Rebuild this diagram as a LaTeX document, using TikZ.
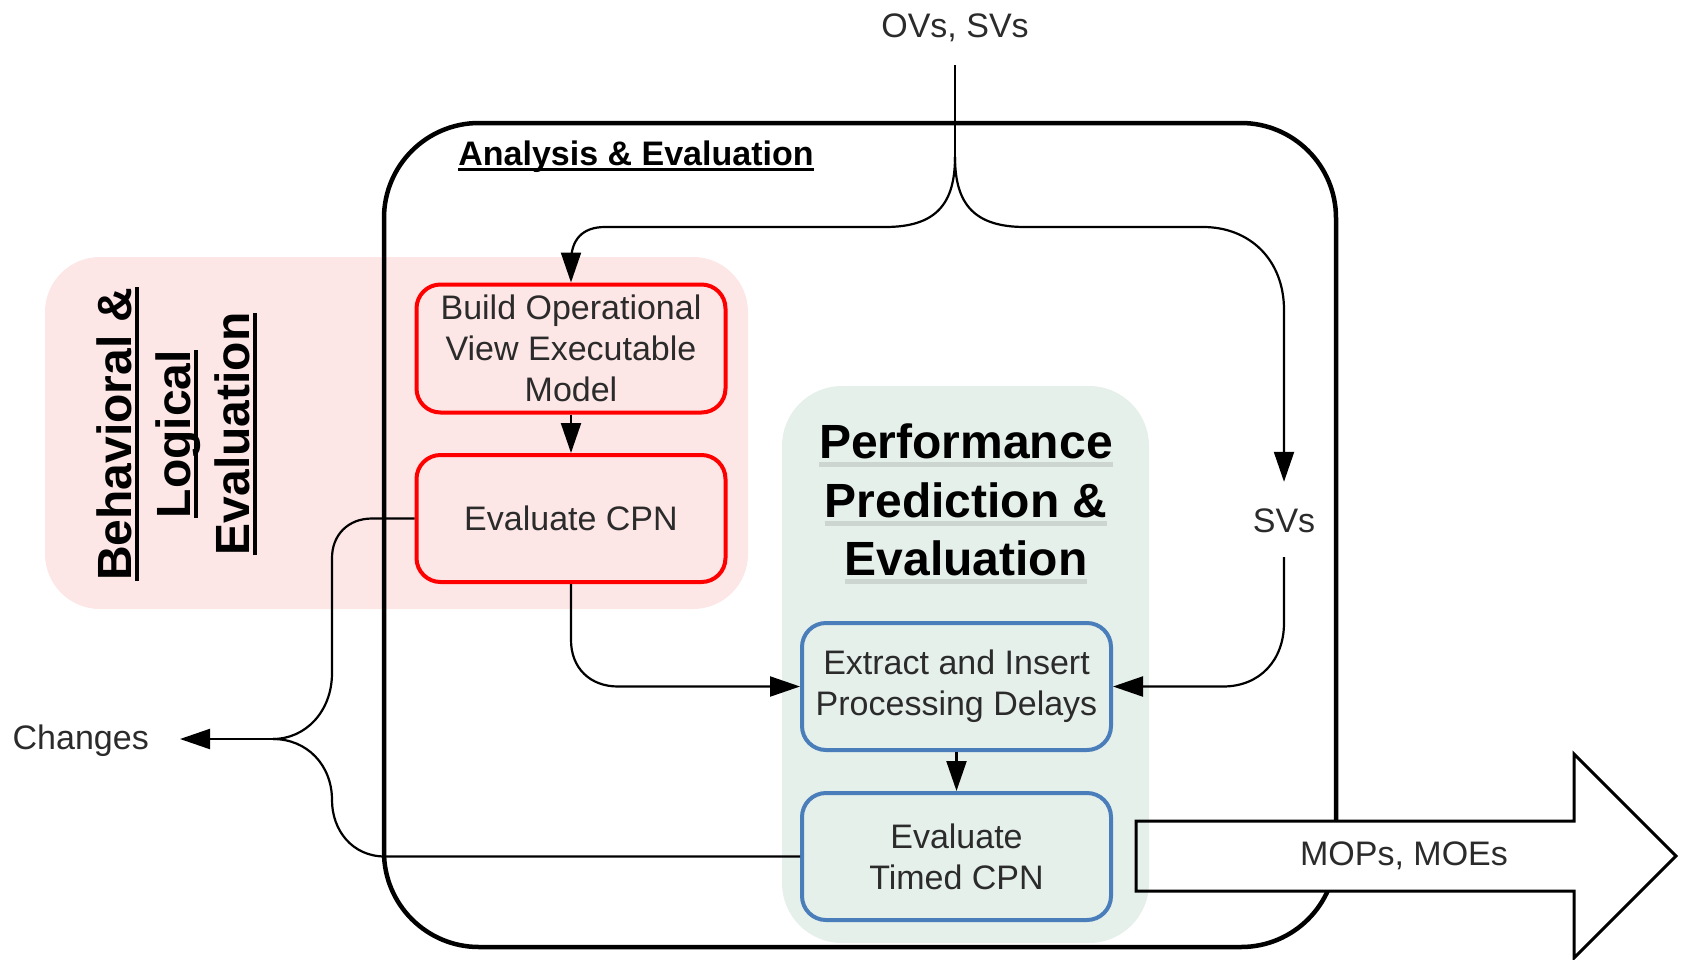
\documentclass[tikz,border=0pt]{standalone}
\usepackage{fontspec}
\setmainfont{Liberation Sans}
\usetikzlibrary{arrows.meta}
\definecolor{pinkbg}{HTML}{FDE6E6}
\definecolor{greenbg}{HTML}{E6F0EB}
\definecolor{boxred}{HTML}{FF0000}
\definecolor{boxblue}{HTML}{4A7EBB}
\definecolor{txt}{HTML}{2B2B2B}
\definecolor{ulgray}{HTML}{CDD5D1}
\newcommand{\ulc}[4]{\leavevmode\setbox0=\hbox{#4}\rlap{\textcolor{#1}{\rule[-\dimexpr#2+#3\relax]{\wd0}{#3}}}\box0}
\begin{document}
\begin{tikzpicture}[x=1pt,y=-1pt,
  box/.style={draw, rounded corners=24pt, line width=4pt, minimum width=309pt, minimum height=127pt, align=center, text=txt, font=\fontsize{34}{41}\selectfont, inner sep=0pt},
  redbox/.style={box, draw=boxred, fill=pinkbg},
  bluebox/.style={box, draw=boxblue, fill=greenbg},
  lbl/.style={text=txt, font=\fontsize{34}{41}\selectfont, inner sep=0pt},
  ttl/.style={font=\fontsize{48}{58}\selectfont\bfseries, inner sep=0pt},
  wire/.style={line width=2.2pt},
  conn/.style={wire, -{Triangle[length=30pt,width=20pt]}},
]
\useasboundingbox (0,0) rectangle (1681,959);

% background regions and frame
\fill[pinkbg, rounded corners=55pt] (45,257) rectangle (748,609);
\draw[line width=4.5pt, rounded corners=95pt] (384,123) rectangle (1336,947);
\fill[white] (1136,821) -- (1574,821) -- (1574,754) -- (1676,856) -- (1574,958) -- (1574,891) -- (1136,891) -- cycle;
\fill[greenbg, rounded corners=60pt] (782,386) rectangle (1149,943);
\draw[line width=3pt, line join=miter] (1136,821) -- (1574,821) -- (1574,754) -- (1676,856) -- (1574,958) -- (1574,891) -- (1136,891) -- cycle;
\node[lbl] (mops) at (1404,856) {MOPs, MOEs};

% titles
\node[font=\fontsize{34}{41}\selectfont\bfseries, inner sep=0pt, anchor=base] (ae) at (636,165) {\ulc{black}{3pt}{3pt}{Analysis \& Evaluation}};
\node[ttl, anchor=base] (pp1) at (966,458) {\ulc{ulgray}{4pt}{5pt}{Performance}};
\node[ttl, anchor=base] (pp2) at (966,517) {\ulc{ulgray}{4pt}{5pt}{Prediction \&}};
\node[ttl, anchor=base] (pp3) at (966,575) {\ulc{ulgray}{4pt}{5pt}{Evaluation}};
\node[ttl, anchor=base, rotate=90] (bl1) at (131,434) {\ulc{black}{4pt}{3.5pt}{Behavioral \&}};
\node[ttl, anchor=base, rotate=90] (bl2) at (190,434) {\ulc{black}{4pt}{3.5pt}{Logical}};
\node[ttl, anchor=base, rotate=90] (bl3) at (249,434) {\ulc{black}{4pt}{3.5pt}{Evaluation}};

% process boxes
\node[redbox, minimum height=128pt] (build) at (571,348.5) {Build Operational\\View Executable\\Model};
\node[redbox] (ecpn) at (571,518.5) {Evaluate CPN};
\node[bluebox] (extract) at (956.5,686.5) {Extract and Insert\\Processing Delays};
\node[bluebox] (timed) at (956.5,856.5) {Evaluate\\Timed CPN};

% labels
\node[lbl, anchor=base, text depth=0pt, inner ysep=28pt] (ovs) at (955,37) {OVs, SVs};
\node[lbl, anchor=base, text height=25pt, text depth=0pt, inner ysep=25pt] (svs) at (1284,532) {SVs};
\node[lbl, anchor=east, text height=20pt, text depth=0pt, inner xsep=31pt] (changes) at (180,739) {Changes};
\coordinate (split) at (955,157);
\coordinate (merge) at (273,739);

% connectors
\draw[wire] (ovs.south) -- (split);
\draw[conn] (split) .. controls (955,205) and (935,227) .. (885,227) -- (605,227) .. controls (582,227) and (571,240) .. (571,262) -- (build.north);
\draw[conn] (split) .. controls (955,205) and (975,227) .. (1025,227) -- (1203,227) .. controls (1250,227) and (1284,260) .. (1284,310) -- (svs.north);
\draw[conn] (svs.south) -- (1284,623) .. controls (1284,660) and (1260,686.5) .. (1223,686.5) -- (extract.east);
\draw[conn] (build) -- (ecpn);
\draw[conn] (ecpn.south) -- (571,640) .. controls (571,668) and (590,686.5) .. (618,686.5) -- (extract.west);
\draw[conn] (extract) -- (timed);
\draw[wire] (ecpn.west) -- (372,518.5) .. controls (348,518.5) and (332,535) .. (332,558) -- (332,673) .. controls (332,712) and (305,739) .. (273,739);
\draw[wire] (timed.west) -- (385,856.5) .. controls (352,856.5) and (332,830) .. (332,800) .. controls (332,765) and (307,739) .. (merge);
\draw[conn] (merge) -- (changes.east);
\end{tikzpicture}
\end{document}
